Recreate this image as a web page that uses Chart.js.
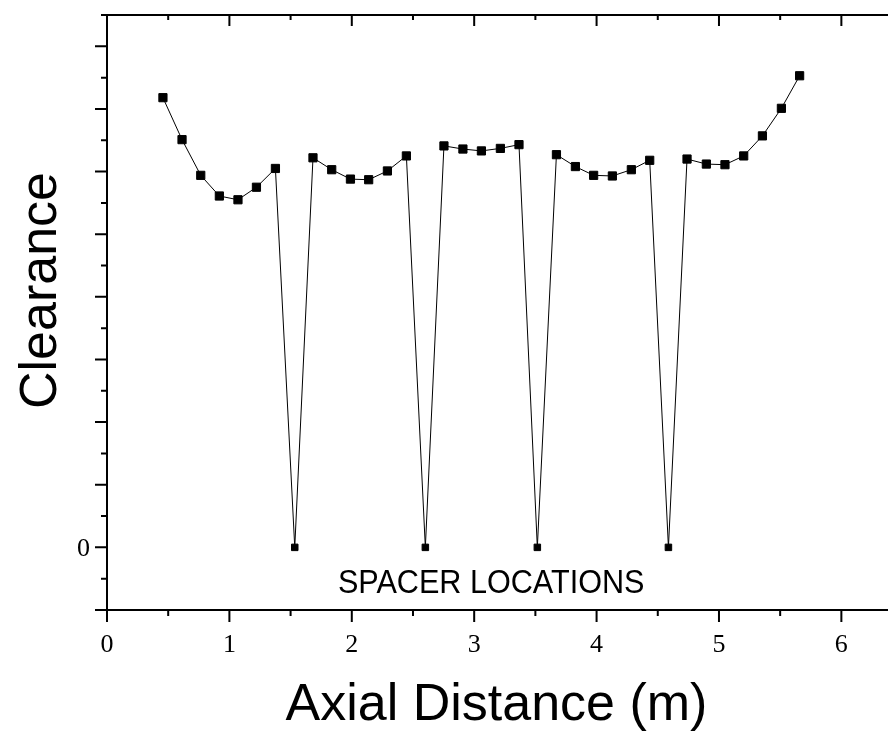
<!DOCTYPE html>
<html><head><meta charset="utf-8">
<script src="https://cdn.jsdelivr.net/npm/chart.js@4/dist/chart.umd.min.js"></script>
<style>html,body{margin:0;padding:0;background:#fff;overflow:hidden}canvas{display:block}</style>
</head><body>
<canvas id="c" width="888" height="731"></canvas>
<script>
// ---- data ----
const axialDistance = [0.457,0.613,0.766,0.918,1.070,1.221,1.376,1.534,1.683,1.836,1.989,2.138,2.291,2.446,2.601,2.753,2.908,3.059,3.214,3.366,3.516,3.672,3.827,3.976,4.129,4.284,4.434,4.587,4.739,4.897,5.049,5.202,5.355,5.510,5.659];
const clearance = [7.18,6.51,5.94,5.61,5.55,5.75,6.05,0,6.22,6.03,5.88,5.87,6.01,6.25,0,6.41,6.36,6.33,6.37,6.43,0,6.27,6.08,5.94,5.93,6.03,6.18,0,6.20,6.12,6.11,6.25,6.57,7.01,7.53];
const xTickValues = [0,1,2,3,4,5,6];
const xTickLabels = ['0','1','2','3','4','5','6'];
const yTickValues = [0];
const yTickLabels = ['0'];
const xTitle = 'Axial Distance (m)';
const yTitle = 'Clearance';
const noteText = 'SPACER LOCATIONS';
const noteAt = {x: 3.139, y: -0.73};

const points = axialDistance.map((x, i) => ({x: x, y: clearance[i]}));

const axesPlugin = {
  id: 'axesPlugin',
  afterDraw(chart) {
    const ctx = chart.ctx, a = chart.chartArea;
    const xs = chart.scales.x, ys = chart.scales.y;
    ctx.save();
    ctx.strokeStyle = '#000';
    ctx.fillStyle = '#000';
    ctx.lineWidth = 2;
    ctx.lineCap = 'butt';
    // axis lines
    ctx.beginPath();
    ctx.moveTo(a.left, a.top); ctx.lineTo(a.right, a.top);
    ctx.moveTo(a.left, a.bottom); ctx.lineTo(a.right, a.bottom);
    ctx.moveTo(a.left, a.top); ctx.lineTo(a.left, a.bottom);
    ctx.stroke();
    // x ticks (bottom outward, top inward)
    ctx.beginPath();
    for (let v = 0; v <= xs.max + 1e-9; v += 0.5) {
      const px = xs.getPixelForValue(v);
      const major = Math.abs(v - Math.round(v)) < 1e-6;
      ctx.moveTo(px, a.bottom); ctx.lineTo(px, a.bottom + (major ? 12 : 6));
      ctx.moveTo(px, a.top); ctx.lineTo(px, a.top + (major ? 11 : 5));
    }
    // y ticks (left outward)
    for (let v = ys.min; v <= ys.max + 1e-9; v += 0.5) {
      const py = ys.getPixelForValue(v);
      const major = Math.abs(v - Math.round(v)) < 1e-6;
      ctx.moveTo(a.left, py); ctx.lineTo(a.left - (major ? 12 : 6), py);
    }
    ctx.stroke();
    // tick labels
    ctx.font = '26px "Liberation Serif", serif';
    ctx.textAlign = 'center';
    ctx.textBaseline = 'alphabetic';
    xTickValues.forEach((v, i) => {
      ctx.fillText(xTickLabels[i], xs.getPixelForValue(v), a.bottom + 42);
    });
    ctx.textAlign = 'right';
    ctx.textBaseline = 'middle';
    yTickValues.forEach((v, i) => {
      ctx.fillText(yTickLabels[i], a.left - 17, ys.getPixelForValue(v) + 2);
    });
    // titles
    ctx.font = '52px "Liberation Sans", Arial, sans-serif';
    ctx.textAlign = 'center';
    ctx.textBaseline = 'alphabetic';
    ctx.fillText(xTitle, (a.left + a.right) / 2 - 1, a.bottom + 110);
    ctx.save();
    ctx.translate(55.5, 290.5);
    ctx.rotate(-Math.PI / 2);
    ctx.fillText(yTitle, 0, 0);
    ctx.restore();
    // annotation
    ctx.save();
    ctx.font = '34px "Liberation Sans", Arial, sans-serif';
    ctx.translate(xs.getPixelForValue(noteAt.x), ys.getPixelForValue(noteAt.y));
    ctx.scale(0.9, 1);
    ctx.textAlign = 'center';
    ctx.textBaseline = 'alphabetic';
    ctx.fillText(noteText, 0, 0);
    ctx.restore();
    ctx.restore();
  }
};

new Chart(document.getElementById('c'), {
  type: 'line',
  data: {
    datasets: [{
      data: points,
      borderColor: '#000',
      borderWidth: 1,
      backgroundColor: '#000',
      pointStyle: 'rect',
      pointRadius: c => (c.raw && c.raw.y === 0) ? 4.6 : 5.8,
      pointBorderWidth: 1,
      pointBorderColor: '#000',
      pointBackgroundColor: '#000',
      tension: 0,
      clip: false
    }]
  },
  options: {
    responsive: false,
    devicePixelRatio: 1,
    animation: false,
    layout: {autoPadding: false, padding: {left: 107, top: 15, right: 0, bottom: 121}},
    plugins: {legend: {display: false}, tooltip: {enabled: false}, title: {display: false}},
    scales: {
      x: {type: 'linear', display: false, min: 0, max: 6.381},
      y: {type: 'linear', display: false, min: -1, max: 8.5}
    }
  },
  plugins: [axesPlugin]
});
</script>
</body></html>
